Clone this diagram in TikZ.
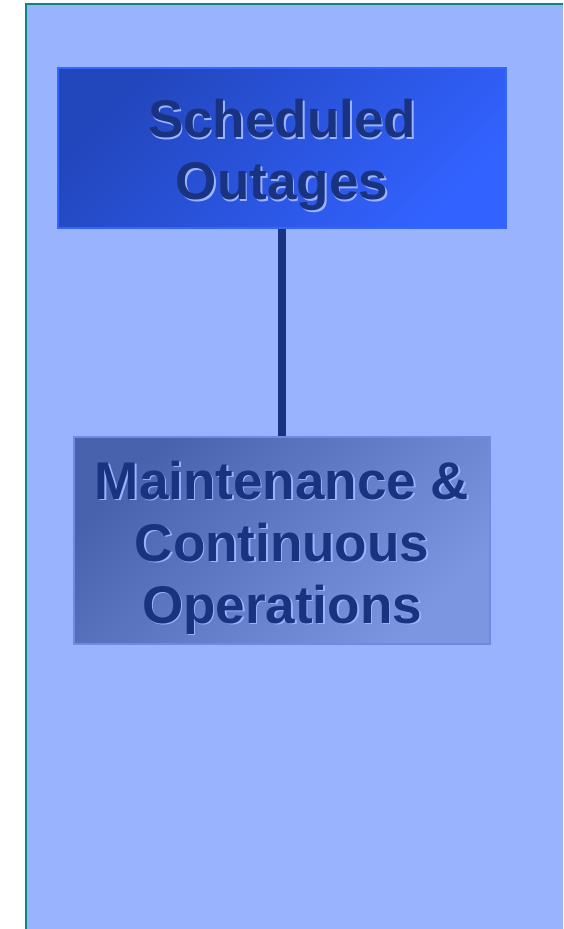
\documentclass[tikz,border=0pt]{standalone}
\usepackage{fontspec}
\setmainfont{Liberation Sans}
\usetikzlibrary{positioning}

\definecolor{bgblue}{RGB}{153,179,255}
\definecolor{frameteal}{RGB}{10,135,128}
\definecolor{navytext}{RGB}{26,51,128}
\definecolor{outdark}{RGB}{34,70,188}
\definecolor{outlight}{RGB}{50,98,255}
\definecolor{outedge}{RGB}{51,102,255}
\definecolor{maintdark}{RGB}{72,98,174}
\definecolor{maintlight}{RGB}{124,150,226}
\definecolor{maintedge}{RGB}{110,138,226}

% text with a light drop shadow
\newcommand{\shd}[1]{\makebox[0pt][l]{\hspace{1.6pt}\raisebox{-1.6pt}{\textcolor{bgblue}{#1}}}#1}
% taller first line, pushes the text block down
\newcommand{\topstrut}{\rule{0pt}{54pt}}

\begin{document}
\begin{tikzpicture}[x=1pt,y=-1pt,
  orgbox/.style={align=center,inner sep=0pt,text=navytext,
    font=\fontsize{53}{62}\selectfont\bfseries},
  outbox/.style={orgbox,minimum width=448pt,minimum height=160pt,
    draw=outedge,line width=2pt,top color=outdark,bottom color=outlight,shading angle=45},
  maintbox/.style={orgbox,minimum width=416pt,minimum height=207pt,
    draw=maintedge,line width=2pt,top color=maintdark,bottom color=maintlight,shading angle=45},
  link/.style={draw=navytext,line width=7.5pt}]

\useasboundingbox (0,0) rectangle (563,929);
\fill[bgblue] (26,4) rectangle (563,929);
\draw[frameteal,line width=2pt] (26,929) -- (26,4) -- (563,4);

\node (outages) at (282,148) [outbox]
{\topstrut\shd{Scheduled}\\\shd{Outages}};
\node (maint) at (282,540.5) [maintbox]
{\topstrut\shd{Maintenance \&}\\\shd{Continuous}\\\shd{Operations}};

\draw[link] (outages) -- (maint);

\end{tikzpicture}
\end{document}
